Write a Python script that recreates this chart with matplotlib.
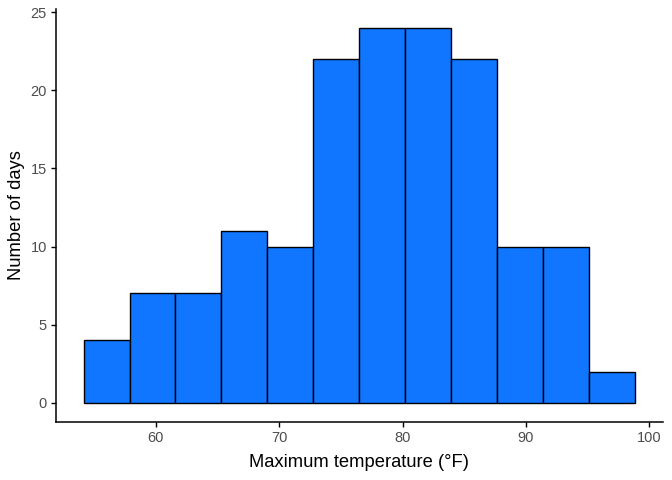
import numpy as np
import matplotlib
matplotlib.use("Agg")
import matplotlib.pyplot as plt

plt.rcParams['font.family'] = ['Liberation Sans', 'DejaVu Sans']

# histogram of daily max temperature: 12 bins spanning 56..97 °F
temp_min, temp_max, n_bins = 56, 97, 12
counts = [4, 7, 7, 11, 10, 22, 24, 24, 22, 10, 10, 2]

width = (temp_max - temp_min) / (n_bins - 1)
edges = temp_min - width / 2 + width * np.arange(n_bins + 1)

fig = plt.figure(figsize=(6.72, 4.8), dpi=100)
ax = fig.add_axes([0.0833, 0.1215, 0.9029, 0.86])

ax.bar(edges[:-1], counts, width=width, align='edge',
       color='#1075FF', edgecolor='black', linewidth=1.0)

span = edges[-1] - edges[0]
ax.set_xlim(edges[0] - 0.05 * span, edges[-1] + 0.05 * span)
ax.set_ylim(-0.05 * max(counts), max(counts) * 1.05)
ax.set_xticks([60, 70, 80, 90, 100])
ax.set_yticks([0, 5, 10, 15, 20, 25])

for side in ('top', 'right'):
    ax.spines[side].set_visible(False)
for side in ('left', 'bottom'):
    ax.spines[side].set_linewidth(1.1)
ax.tick_params(colors='black', labelcolor='#4D4D4D', labelsize=10.5,
               width=1.0, length=3.5, pad=3, direction='out')

ax.set_xlabel('Maximum temperature (°F)', fontsize=13.2, labelpad=7)
ax.set_ylabel('Number of days', fontsize=13.2, labelpad=4)

fig.savefig('out.png', dpi=100)
